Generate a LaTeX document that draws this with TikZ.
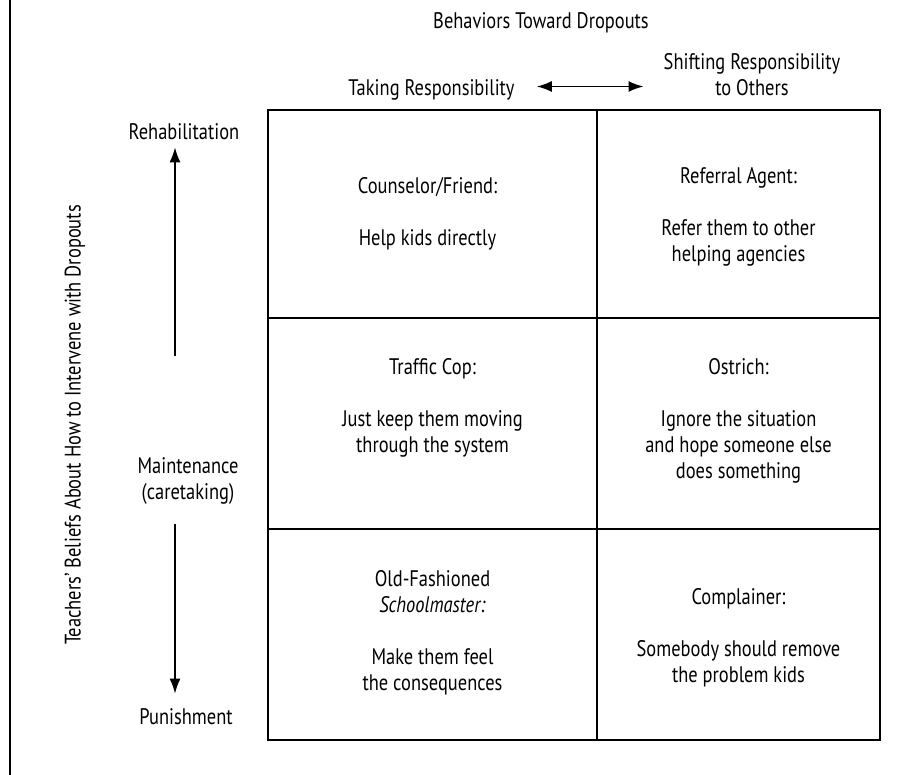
\documentclass[tikz,border=0pt]{standalone}
\usepackage{fontspec}
\setmainfont[FakeStretch=0.82]{PT Sans}
\usetikzlibrary{arrows.meta, positioning}

\begin{document}
\begin{tikzpicture}[x=1pt, y=-1pt,
    lbl/.style={font=\fontsize{22.5}{26}\selectfont, align=center, inner sep=1pt},
    cell/.style={draw, line width=1.4pt, inner sep=0pt},
    arr/.style={-{Latex[length=15pt, width=11pt]}, line width=1.8pt},
    dbl/.style={{Latex[length=15pt, width=11pt]}-{Latex[length=15pt, width=11pt]}, line width=1.8pt}
]
\useasboundingbox (0,0) rectangle (911,775);

% frame line on the left
\draw[line width=1.3pt] (10,0) -- (10,775);

% Header: behaviors
\node[lbl] (title) at (541,22.5) {Behaviors Toward Dropouts};
\node[lbl] (take) at (431.5,89.5) {Taking Responsibility};
\node[lbl] (shift) at (752,75) {Shifting Responsibility\\to Others};
\draw[dbl, shorten <=21pt, shorten >=19pt] ([yshift=3pt]take.east) -- ([yshift=3pt]take.east -| shift.west);

% Side axis: beliefs
\node[lbl, rotate=90] (beliefs) at (75,425) {Teachers' Beliefs About How to Intervene with Dropouts};
\node[lbl] (rehab) at (184,132) {Rehabilitation};
\node[lbl] (maint) at (188,481) {Maintenance\\(caretaking)};
\node[lbl] (pun) at (186,717) {Punishment};
\draw[arr, shorten <=100pt, shorten >=6pt] ([xshift=-13pt]maint.north) -- ([xshift=-13pt]rehab.south -| maint.north);
\draw[arr, shorten <=18pt, shorten >=14pt] ([xshift=-13pt]maint.south) -- ([xshift=-13pt]pun.north -| maint.south);

% Grid cells
\node[cell, minimum width=329pt, minimum height=208pt] (cf) at (432.5,214) {};
\node[cell, minimum width=283pt, minimum height=208pt] (ra) at (738.5,214) {};
\node[cell, minimum width=329pt, minimum height=211pt] (tc) at (432.5,423.5) {};
\node[cell, minimum width=283pt, minimum height=211pt] (os) at (738.5,423.5) {};
\node[cell, minimum width=329pt, minimum height=211pt] (ofs) at (432.5,634.5) {};
\node[cell, minimum width=283pt, minimum height=211pt] (cp) at (738.5,634.5) {};

% Cell texts
\node[lbl] (cft) at ([xshift=-5pt]cf.center) {Counselor/Friend:\\[26pt]Help kids directly};
\node[lbl] (rat) at ([yshift=-2.5pt]ra.center) {Referral Agent:\\[26pt]Refer them to other\\helping agencies};
\node[lbl] (tct) at ([yshift=16pt]tc.center) {Traffic Cop:\\[26pt]Just keep them moving\\through the system};
\node[lbl] (ost) at ([yshift=3pt]os.center) {Ostrich:\\[26pt]Ignore the situation\\and hope someone else\\does something};
\node[lbl] (ofst) at ([yshift=2pt]ofs.center) {Old-Fashioned\\\textit{Schoolmaster:}\\[26pt]Make them feel\\the consequences};
\node[lbl] (cpt) at ([yshift=-3.5pt]cp.center) {Complainer:\\[26pt]Somebody should remove\\the problem kids};

\end{tikzpicture}
\end{document}
